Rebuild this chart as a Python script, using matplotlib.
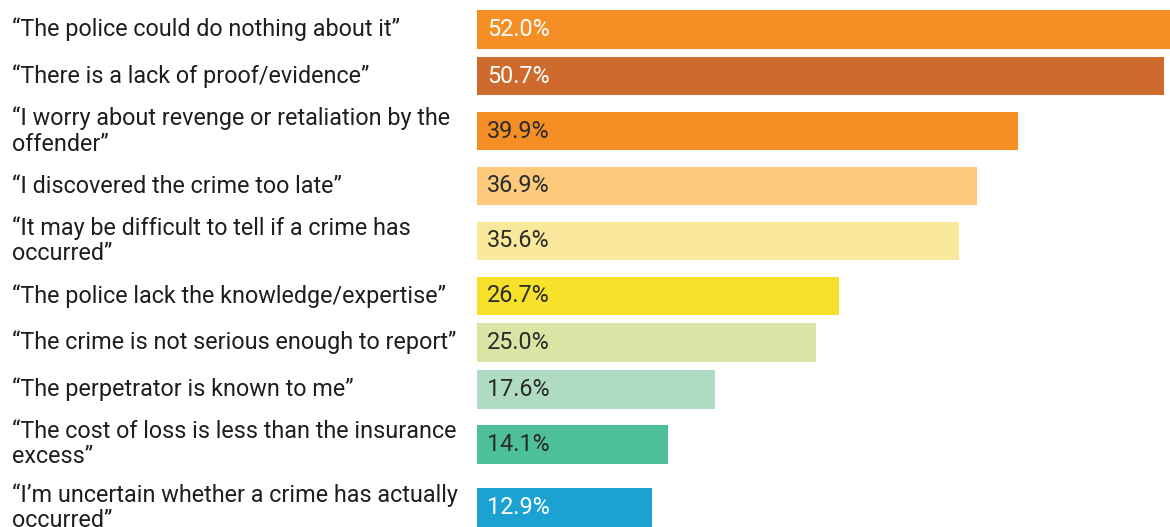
import numpy as np
import matplotlib.pyplot as plt

plt.rcParams['font.family'] = ['Roboto', 'DejaVu Sans']

reasons = ['\u201cThe police could do nothing about it\u201d',
           '\u201cThere is a lack of proof/evidence\u201d',
           '\u201cI worry about revenge or retaliation by the\noffender\u201d',
           '\u201cI discovered the crime too late\u201d',
           '\u201cIt may be difficult to tell if a crime has\noccurred\u201d',
           '\u201cThe police lack the knowledge/expertise\u201d',
           '\u201cThe crime is not serious enough to report\u201d',
           '\u201cThe perpetrator is known to me\u201d',
           '\u201cThe cost of loss is less than the insurance\nexcess\u201d',
           '\u201cI\u2019m uncertain whether a crime has actually\noccurred\u201d']
share = [52.0, 50.7, 39.9, 36.9, 35.6, 26.7, 25.0, 17.6, 14.1, 12.9]
colors = ['#F58E25', '#CE6A2D', '#F58E25', '#FDC97B', '#FAE89C',
          '#F7E12B', '#D9E5A4', '#AEDBC1', '#4DC09B', '#1BA2D3']
text_colors = ['white', 'white', '#2b2b2b', '#2b2b2b', '#2b2b2b',
               '#2b2b2b', '#2b2b2b', '#2b2b2b', '#2b2b2b', 'white']

# row heights in pixels: one-line rows are shorter than two-line rows
W, H = 1170, 527
heights = np.array([63 if '\n' in r else 46.8 for r in reasons])
tops = 6 + np.concatenate([[0], np.cumsum(heights)[:-1]])
ypos = tops + heights / 2

fig = plt.figure(figsize=(W / 100, H / 100), dpi=100)
x0 = 477
scale = 13.55  # px per percent
ax = fig.add_axes([x0 / W, 0, 1 - x0 / W, 1])
ax.set_xlim(0, (W - x0) / scale)
ax.set_ylim(H, 0)
ax.axis('off')

ax.barh(ypos, share, height=38.5, color=colors, edgecolor='none')

for y, v, tc, lab in zip(ypos, share, text_colors, reasons):
    ax.text(0.75, y, f'{v:.1f}%', color=tc, fontsize=16.8,
            va='center', ha='left')
    fig.text(12 / W, 1 - y / H, lab, fontsize=16.8, color='#1e1e1e',
             va='center', ha='left', linespacing=1.12)

fig.savefig('out.png', dpi=100)
